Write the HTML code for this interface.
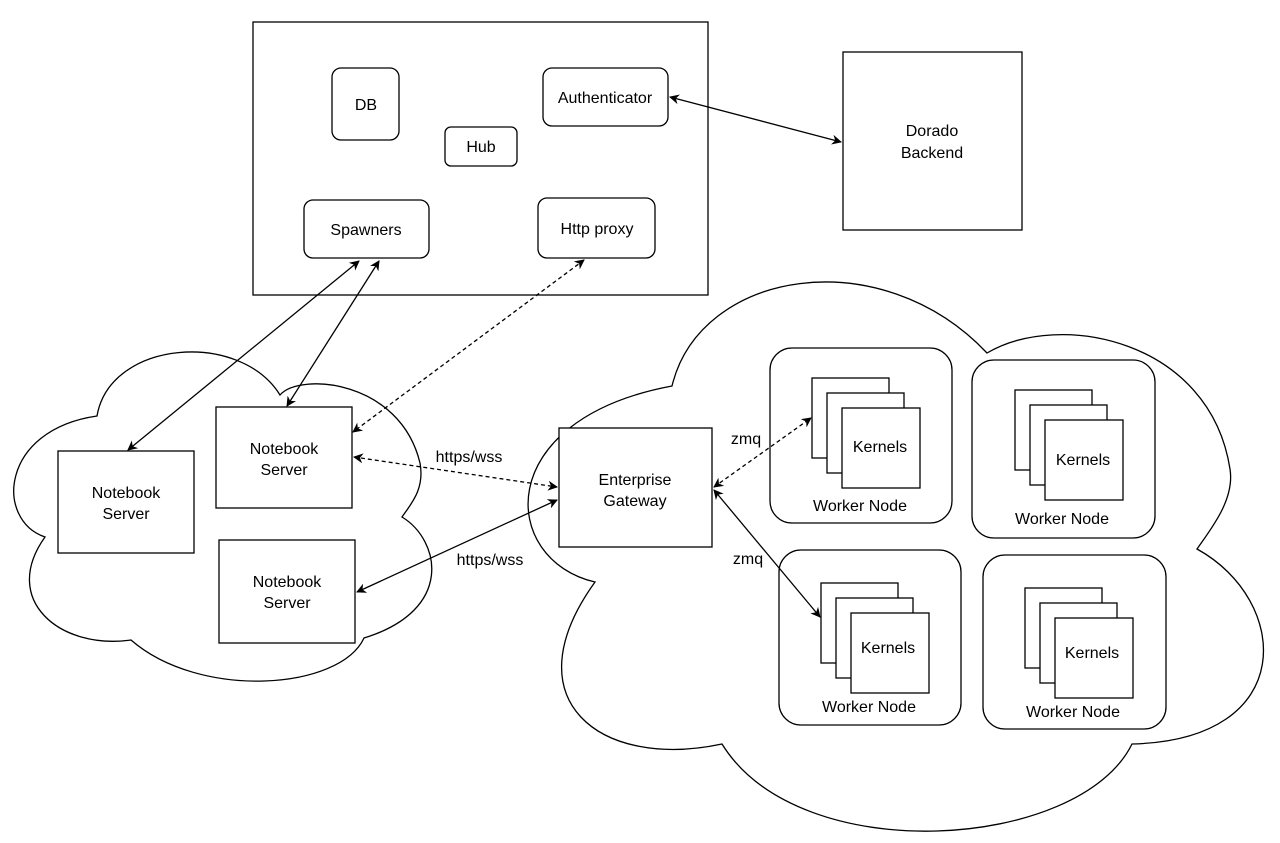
<!DOCTYPE html>
<html><head><meta charset="utf-8"><style>
html,body{margin:0;padding:0;background:#fff}
svg{display:block}
text{font-family:"Liberation Sans",Arial,sans-serif;font-size:16px;fill:#000}
</style></head><body>
<svg width="1280" height="843" viewBox="0 0 1280 843" xmlns="http://www.w3.org/2000/svg">
<defs>
<marker id="a" viewBox="0 0 10 10" refX="9" refY="5" markerWidth="10" markerHeight="10" markerUnits="userSpaceOnUse" orient="auto-start-reverse">
<path d="M0,0 L10,5 L0,10 L3,5 z" fill="#000"/></marker>
</defs>
<g fill="none" stroke="#000" stroke-width="1.3">
<path d="M97,416 C110,340 240,330 280,395 C300,372 400,380 420,463 C425,490 410,505 402,517 C440,540 455,610 364,638 C340,690 200,700 131,640 C60,650 0,600 45,537 C-5,520 0,430 97,416 Z" fill="#fff"/>
<path d="M672,386 C700,270 880,240 987,353 C1060,310 1210,340 1230,469 C1235,500 1210,530 1197,549 C1290,600 1300,740 1132,744 C1080,850 800,870 722,744 C600,770 510,700 595,582 C500,560 490,420 672,386 Z" fill="#fff"/>
<rect x="253" y="22" width="455" height="273"/>
<rect x="332" y="68" width="67" height="72" rx="9"/>
<rect x="445" y="127" width="72" height="39" rx="6"/>
<rect x="543" y="68" width="125" height="58" rx="9"/>
<rect x="304" y="200" width="125" height="58" rx="9"/>
<rect x="538" y="198" width="117" height="60" rx="9"/>
<rect x="843" y="52" width="179" height="178"/>
<rect x="58" y="451" width="136" height="102" fill="#fff"/>
<rect x="216" y="407" width="136" height="101" fill="#fff"/>
<rect x="219" y="540" width="136" height="103" fill="#fff"/>
<rect x="559" y="428" width="153" height="119" fill="#fff"/>
<rect x="770" y="348" width="182" height="175" rx="22"/>
<rect x="972" y="360" width="183" height="178" rx="22"/>
<rect x="779" y="550" width="182" height="175" rx="22"/>
<rect x="983" y="555" width="183" height="174" rx="22"/>
</g>
<g fill="#fff" stroke="#000" stroke-width="1.3">
<rect x="812" y="378" width="77" height="80"/><rect x="827" y="393" width="77" height="80"/><rect x="842" y="408" width="78" height="80"/>
<rect x="1015" y="390" width="77" height="80"/><rect x="1030" y="405" width="77" height="80"/><rect x="1045" y="420" width="78" height="80"/>
<rect x="821" y="583" width="77" height="80"/><rect x="836" y="598" width="77" height="80"/><rect x="851" y="613" width="78" height="80"/>
<rect x="1025" y="588" width="77" height="80"/><rect x="1040" y="603" width="77" height="80"/><rect x="1055" y="618" width="78" height="80"/>
</g>
<g stroke="#000" stroke-width="1.3" fill="none">
<line x1="670" y1="97" x2="841" y2="142" marker-start="url(#a)" marker-end="url(#a)"/>
<line x1="359" y1="261" x2="128" y2="450" marker-start="url(#a)" marker-end="url(#a)"/>
<line x1="379" y1="261" x2="287" y2="406" marker-start="url(#a)" marker-end="url(#a)"/>
<line x1="584" y1="260" x2="353" y2="432" stroke-dasharray="4,3" marker-start="url(#a)" marker-end="url(#a)"/>
<line x1="354" y1="457" x2="557" y2="487" stroke-dasharray="4,3" marker-start="url(#a)" marker-end="url(#a)"/>
<line x1="357" y1="592" x2="557" y2="500" marker-start="url(#a)" marker-end="url(#a)"/>
<line x1="714" y1="487" x2="811" y2="418" stroke-dasharray="4,3" marker-start="url(#a)" marker-end="url(#a)"/>
<line x1="714" y1="490" x2="820" y2="617" marker-start="url(#a)" marker-end="url(#a)"/>
</g>
<g text-anchor="middle">
<text x="366" y="110">DB</text>
<text x="481" y="152">Hub</text>
<text x="605" y="103">Authenticator</text>
<text x="366" y="235">Spawners</text>
<text x="597" y="234">Http proxy</text>
<text x="932" y="136">Dorado</text><text x="932" y="158">Backend</text>
<text x="126" y="498">Notebook</text><text x="126" y="519">Server</text>
<text x="284" y="454">Notebook</text><text x="284" y="475">Server</text>
<text x="287" y="587">Notebook</text><text x="287" y="608">Server</text>
<text x="635" y="485">Enterprise</text><text x="635" y="506">Gateway</text>
<text x="469" y="462">https/wss</text>
<text x="490" y="565">https/wss</text>
<text x="746" y="444">zmq</text>
<text x="748" y="564">zmq</text>
<text x="880" y="452">Kernels</text>
<text x="1083" y="465">Kernels</text>
<text x="888" y="653">Kernels</text>
<text x="1092" y="658">Kernels</text>
<text x="860" y="511">Worker Node</text>
<text x="1062" y="524">Worker Node</text>
<text x="869" y="712">Worker Node</text>
<text x="1073" y="717">Worker Node</text>
</g>
</svg>
</body></html>
